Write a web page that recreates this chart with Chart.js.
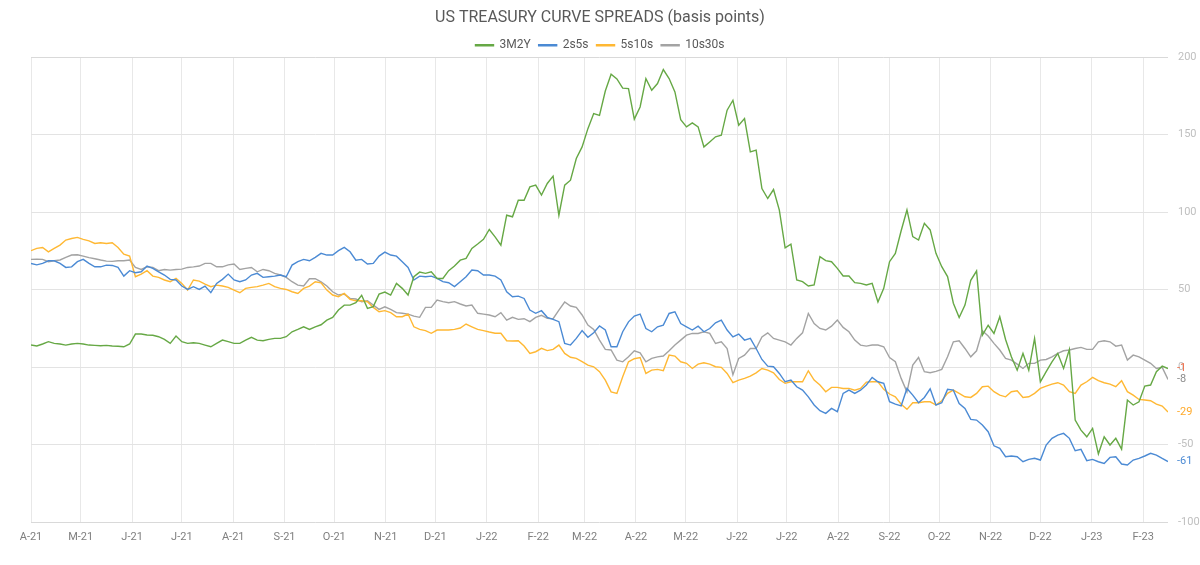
<!DOCTYPE html>
<html>
<head>
<meta charset="utf-8">
<title>US Treasury Curve Spreads</title>
<script src="https://cdn.jsdelivr.net/npm/chart.js@4.4.1/dist/chart.umd.min.js"></script>
<style>
  html, body { margin: 0; padding: 0; background: #fff; }
  #wrap { width: 1200px; height: 565px; }
</style>
</head>
<body>
<div id="wrap"><canvas id="spreadChart" width="1200" height="565"></canvas></div>
<script>
/* ── US Treasury curve spreads (bp) ── */
/* two readings a week, day 0 = 1 Apr 2021, last one mid Feb 2023 */

const STEP_DAYS = 3.5;

// month starts, counted in days from 1 Apr 2021
const monthDays = [0, 30, 61, 91, 122, 153, 183, 214, 244, 275, 306, 334, 365, 395, 426, 456, 487, 518, 548, 579, 609, 640, 671];
const monthLabels = ['A-21','M-21','J-21','J-21','A-21','S-21','O-21','N-21','D-21','J-22','F-22','M-22','A-22','M-22','J-22','J-22','A-22','S-22','O-22','N-22','D-22','J-23','F-23'];

const yTicks = [-100, -50, 0, 50, 100, 150, 200];

const spread3m2y = [
  14.2, 13.6, 14.9, 16.4, 15.3, 14.9, 14.2, 14.9, 15.3, 14.9,
  14.2, 14.0, 13.8, 14.0, 13.6, 13.4, 13.1, 14.9, 21.3, 21.3,
  20.7, 20.5, 19.6, 17.9, 15.3, 20.0, 16.4, 15.3, 15.7, 15.3,
  14.2, 13.1, 15.3, 17.4, 16.4, 15.3, 15.3, 17.4, 19.2, 17.4,
  17.0, 17.9, 18.5, 18.5, 19.6, 22.8, 24.3, 26.0, 24.3, 26.0,
  27.3, 30.3, 32.0, 36.8, 40.0, 40.0, 41.5, 46.3, 37.9, 39.0,
  47.1, 48.4, 46.5, 54.0, 50.8, 46.5, 58.3, 61.3, 60.5, 61.5,
  57.2, 57.2, 62.2, 65.2, 69.0, 70.1, 76.6, 79.4, 82.4, 88.8,
  84.0, 78.7, 98.0, 97.0, 107.7, 107.7, 116.3, 117.4, 111.0, 118.5,
  123.2, 98.0, 117.4, 120.6, 134.6, 142.1, 153.9, 163.6, 162.5, 178.2,
  189.0, 186.0, 180.0, 179.7, 160.0, 167.9, 186.2, 178.7, 183.0, 192.0,
  186.2, 177.6, 159.7, 155.0, 157.6, 155.0, 142.1, 145.3, 148.6, 149.6,
  165.8, 172.2, 156.1, 160.4, 138.9, 140.0, 115.2, 108.8, 114.6, 101.3,
  77.0, 79.4, 56.2, 55.1, 52.3, 53.0, 71.3, 68.7, 68.0, 63.7,
  58.8, 58.8, 54.5, 54.0, 53.0, 54.0, 42.0, 50.8, 68.0, 73.4,
  88.0, 101.4, 84.2, 82.0, 92.8, 88.5, 73.4, 64.8, 58.4, 41.2,
  32.0, 40.0, 56.0, 62.0, 20.6, 27.0, 21.7, 32.5, 17.8, 6.6,
  -2.0, 8.8, -2.0, 18.5, -9.5, -3.0, 3.4, 8.8, -0.9, 11.4,
  -34.2, -40.7, -45.0, -39.6, -56.0, -45.0, -50.3, -46.0, -53.0, -21.3,
  -24.5, -22.4, -12.3, -11.6, -3.0, 0.6, -1.0
];

const spread2s5s = [
  66.9, 66.0, 66.9, 68.6, 68.6, 66.9, 64.3, 64.7, 68.0, 69.5,
  66.9, 64.7, 64.7, 65.8, 65.6, 64.3, 58.7, 62.2, 60.9, 61.5,
  65.2, 63.7, 61.5, 59.4, 56.6, 56.2, 52.3, 50.1, 51.9, 50.1,
  52.3, 48.0, 54.0, 56.6, 60.0, 56.2, 55.1, 56.2, 59.4, 60.5,
  57.9, 58.3, 58.7, 59.4, 58.3, 65.8, 68.0, 69.5, 68.6, 70.8,
  73.4, 72.3, 72.3, 75.1, 77.2, 74.4, 69.0, 69.5, 66.5, 66.9,
  71.6, 74.2, 72.3, 71.6, 68.0, 64.3, 56.2, 58.7, 58.3, 58.7,
  57.2, 55.1, 54.4, 51.9, 55.1, 58.3, 62.6, 62.2, 59.4, 59.4,
  58.7, 56.2, 48.6, 45.4, 45.8, 44.3, 36.8, 34.7, 36.4, 32.1,
  30.8, 29.3, 15.3, 14.2, 18.5, 23.5, 19.2, 22.2, 26.5, 23.9,
  13.1, 13.1, 22.8, 29.2, 32.9, 34.2, 24.9, 22.8, 26.0, 27.1,
  34.6, 35.7, 28.1, 26.0, 23.9, 26.4, 22.8, 24.9, 28.6, 30.3,
  23.9, 19.5, 21.3, 17.4, 18.5, 12.0, 4.9, 0.6, 0.2, -4.1,
  -9.5, -8.4, -12.7, -14.9, -19.2, -24.5, -28.2, -29.9, -26.7, -28.8,
  -17.0, -14.9, -17.0, -14.9, -11.6, -6.7, -9.5, -10.5, -22.4, -23.9,
  -25.0, -13.8, -18.1, -23.0, -19.6, -14.0, -24.5, -23.0, -14.4, -14.9,
  -23.5, -26.7, -33.8, -34.2, -37.4, -41.7, -50.8, -52.5, -57.9, -57.4,
  -57.9, -61.1, -59.6, -58.9, -60.0, -50.3, -46.0, -43.9, -42.8, -46.0,
  -54.0, -53.1, -60.4, -59.6, -61.1, -62.2, -58.3, -57.9, -62.6, -63.2,
  -60.0, -58.9, -57.4, -55.7, -56.8, -59.0, -61.0
];

const spread5s10s = [
  75.1, 76.6, 77.2, 74.4, 76.6, 78.7, 82.0, 83.0, 83.7, 82.4,
  81.5, 79.8, 80.2, 79.8, 80.2, 77.2, 72.9, 71.6, 58.3, 60.0,
  62.2, 58.7, 57.9, 56.2, 55.1, 57.2, 54.0, 49.7, 56.2, 55.5,
  53.6, 51.9, 52.9, 52.3, 51.4, 49.7, 48.0, 50.8, 51.4, 51.9,
  52.9, 54.0, 51.9, 50.8, 50.1, 48.6, 47.5, 50.8, 52.3, 55.1,
  54.4, 49.7, 46.5, 45.4, 47.5, 43.7, 42.8, 42.8, 42.2, 38.5,
  35.7, 36.4, 35.1, 32.5, 32.5, 34.2, 26.0, 24.3, 23.5, 21.8,
  23.9, 23.9, 23.9, 24.3, 25.2, 27.8, 26.0, 24.3, 23.5, 22.6,
  21.8, 21.8, 17.0, 16.8, 17.0, 13.6, 8.8, 9.9, 12.1, 10.6,
  11.4, 14.2, 8.8, 6.3, 5.6, 3.5, 1.3, 0.2, -3.0, -8.4,
  -16.0, -17.0, -6.2, 3.4, 5.4, 6.2, -4.1, -2.0, -1.5, -2.4,
  7.7, 7.1, 3.4, 2.4, -0.9, 1.9, 2.8, 1.9, 0.2, -0.2,
  -4.1, -10.1, -8.4, -7.3, -5.8, -3.7, -0.9, -2.0, -3.7, -8.0,
  -10.5, -9.5, -9.5, -9.5, -2.4, -8.4, -11.6, -15.9, -13.1, -13.1,
  -13.8, -13.8, -14.9, -13.8, -9.7, -9.5, -9.5, -14.4, -17.4, -19.2,
  -24.0, -27.3, -23.0, -23.0, -22.4, -22.4, -24.5, -21.7, -17.0, -14.9,
  -17.0, -19.2, -19.6, -17.0, -12.7, -12.3, -15.9, -18.1, -19.2, -15.9,
  -15.3, -19.6, -19.2, -17.0, -13.8, -12.3, -11.0, -10.1, -11.6, -15.9,
  -17.0, -11.6, -9.5, -6.7, -8.8, -10.1, -11.0, -12.7, -8.8, -15.9,
  -18.1, -20.9, -21.3, -21.7, -23.9, -25.2, -29.0
];

const spread10s30s = [
  69.5, 69.7, 69.5, 68.0, 68.6, 69.1, 70.8, 72.3, 72.5, 71.6,
  70.6, 69.9, 69.1, 68.4, 68.2, 68.6, 68.6, 69.1, 64.3, 63.0,
  64.7, 64.3, 62.2, 63.0, 62.6, 63.0, 63.2, 64.3, 64.7, 65.2,
  66.9, 66.9, 64.7, 64.7, 66.0, 66.5, 63.0, 63.7, 64.3, 61.5,
  63.0, 62.2, 60.5, 59.4, 57.9, 55.1, 52.9, 52.3, 57.0, 57.0,
  55.0, 52.3, 48.6, 46.5, 47.1, 44.3, 43.9, 42.2, 42.8, 40.0,
  37.2, 38.9, 37.2, 35.1, 34.7, 34.2, 32.9, 32.1, 38.5, 38.5,
  43.2, 42.2, 41.5, 42.2, 40.7, 39.4, 40.0, 34.7, 34.2, 33.6,
  32.5, 35.1, 30.3, 32.1, 30.8, 31.2, 29.3, 32.1, 33.4, 31.4,
  31.2, 36.8, 42.0, 39.4, 38.5, 33.6, 27.1, 24.3, 17.4, 11.4,
  11.0, 4.5, 3.4, 6.6, 10.5, 9.2, 3.4, 5.6, 6.6, 7.1,
  10.5, 14.2, 17.4, 20.6, 21.7, 21.7, 22.8, 21.7, 15.2, 16.3,
  12.0, -5.0, 5.6, 7.7, 12.0, 12.0, 19.5, 22.1, 18.5, 17.4,
  16.3, 14.2, 18.5, 22.1, 34.6, 28.1, 24.9, 23.9, 26.4, 30.3,
  25.6, 22.8, 17.4, 14.2, 13.5, 14.2, 14.2, 13.1, 6.2, 3.4,
  -7.3, -16.0, 1.3, 6.2, -3.0, -3.7, -2.8, -1.5, 6.6, 16.3,
  17.0, 12.0, 6.6, 10.5, 23.4, 20.0, 15.3, 11.0, 5.6, 4.5,
  1.9, -0.9, 2.4, 2.4, 4.5, 4.9, 6.6, 8.8, 10.5, 11.0,
  12.0, 12.7, 11.4, 11.4, 16.3, 17.0, 16.3, 13.5, 14.2, 4.5,
  7.7, 6.6, 4.5, 2.4, -0.9, -0.2, -8.0
];

const seriesNames  = ['3M2Y', '2s5s', '5s10s', '10s30s'];
const seriesValues = [spread3m2y, spread2s5s, spread5s10s, spread10s30s];
const lineColors   = ['#66a845', '#4b8ad4', '#ffb833', '#a3a3a3'];
const endColors    = ['#f0704c', '#4b8ad4', '#ffaa2b', '#8c8c8c'];

const FONT = 'Roboto';

function toPoints(values) {
  return values.map((v, i) => ({ x: i * STEP_DAYS, y: v }));
}

// last value of each series written just right of the plot
const endLabels = {
  id: 'endLabels',
  afterLayout(chart) {
    // legend sits a little lower, closer to the plot
    chart.legend.top += 4;
    chart.legend.bottom += 4;
  },
  afterDatasetsDraw(chart) {
    const { ctx, chartArea } = chart;
    const y = chart.scales.y;
    ctx.save();
    ctx.font = `11px ${FONT}`;
    ctx.textBaseline = 'middle';
    ctx.textAlign = 'left';
    chart.data.datasets.forEach(ds => {
      const last = ds.data[ds.data.length - 1].y;
      ctx.fillStyle = ds.endColor;
      ctx.fillText(String(Math.round(last)), chartArea.right + 9, y.getPixelForValue(last));
    });
    ctx.restore();
  }
};

const datasets = seriesNames.map((name, i) => ({
  label: name,
  data: toPoints(seriesValues[i]),
  borderColor: lineColors[i],
  backgroundColor: lineColors[i],
  borderWidth: 1.4,
  pointRadius: 0,
  tension: 0,
  endColor: endColors[i]
}));

const lastDay = (spread3m2y.length - 1) * STEP_DAYS;

new Chart(document.getElementById('spreadChart'), {
  type: 'line',
  data: { datasets },
  options: {
    responsive: false,
    animation: false,
    layout: { padding: { top: 8, left: 0, right: 0, bottom: 0 } },
    plugins: {
      title: {
        display: true,
        text: 'US TREASURY CURVE SPREADS (basis points)',
        color: '#595959',
        font: { family: FONT, size: 16, weight: 'normal' },
        padding: { top: 0, bottom: 0 }
      },
      legend: {
        position: 'top',
        labels: {
          boxWidth: 18, boxHeight: 1, padding: 8,
          color: '#595959',
          font: { family: FONT, size: 12 }
        }
      },
      tooltip: { enabled: false }
    },
    scales: {
      x: {
        type: 'linear',
        min: 0, max: lastDay,
        afterBuildTicks: axis => { axis.ticks = monthDays.map(d => ({ value: d })); },
        afterFit: axis => { axis.height = 43; },
        ticks: {
          autoSkip: false, maxRotation: 0, padding: 9,
          color: '#7f7f7f',
          font: { family: FONT, size: 11 },
          callback: (v, i) => monthLabels[i]
        },
        grid: { color: '#e8e8e8', drawTicks: false },
        border: { display: false }
      },
      yLeft: {
        position: 'left',
        afterFit: axis => { axis.width = 31; },
        ticks: { display: false },
        grid: { display: false },
        border: { display: false }
      },
      y: {
        position: 'right',
        min: -100, max: 200,
        afterBuildTicks: axis => { axis.ticks = yTicks.map(v => ({ value: v })); },
        afterFit: axis => { axis.width = 32; },
        ticks: {
          padding: 10,
          color: '#bfbfbf',
          font: { family: FONT, size: 11 }
        },
        grid: {
          drawTicks: false,
          color: c => (c.tick && (c.tick.value === 200 || c.tick.value === -100)) ? '#d9d9d9' : '#e3e3e3'
        },
        border: { display: false }
      }
    }
  },
  plugins: [endLabels]
});
</script>
</body>
</html>
